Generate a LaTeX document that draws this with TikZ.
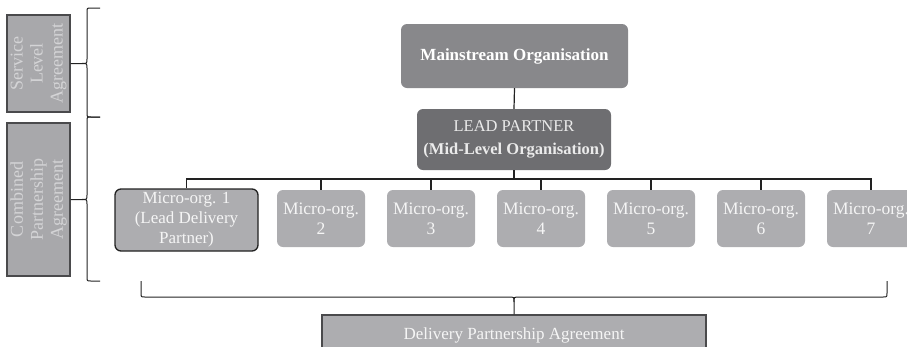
\documentclass[tikz,border=0pt]{standalone}
\usepackage{fontspec}
\setmainfont{Liberation Serif}
\definecolor{mainfill}{HTML}{88888B}
\definecolor{leadfill}{HTML}{6E6E71}
\definecolor{microfill}{HTML}{ADADB0}
\definecolor{sidefill}{HTML}{A8A8AB}
\definecolor{sidetext}{HTML}{D4D4D6}
\definecolor{edge}{HTML}{4A4A4C}
\definecolor{linec}{HTML}{222222}
\tikzset{
  orgbox/.style={rounded corners=6pt, inner sep=0pt, align=center, font=\fontsize{17.5}{20}\selectfont},
  mainbox/.style={orgbox, fill=mainfill, text=white, minimum width=227pt, minimum height=64pt, font=\fontsize{17}{20}\selectfont\bfseries},
  leadbox/.style={orgbox, fill=leadfill, text=white!92!black, minimum width=194pt, minimum height=61pt, font=\fontsize{16.5}{23}\selectfont},
  microbox/.style={orgbox, fill=microfill, text=white!96!black, minimum width=88pt, minimum height=57pt},
  sidebox/.style={draw=edge, line width=1.3pt, fill=sidefill, text=sidetext, inner sep=0pt, align=center, font=\fontsize{18}{20}\selectfont, rotate=90},
  conn/.style={draw=linec, line width=1.2pt},
  bracel/.style={draw=linec, line width=1pt},
}
\begin{document}
\begin{tikzpicture}[x=1pt,y=-1pt]
\useasboundingbox (0,0) rectangle (907,346);

% side boxes
\node[sidebox, minimum width=97pt, minimum height=63pt] (sla) at (38.5,63.5) {Service\\Level\\Agreement};
\node[sidebox, minimum width=153pt, minimum height=63pt] (cpa) at (38.5,199.5) {Combined\\Partnership\\Agreement};

% hierarchy
\node[mainbox] (main) at (514.5,56) {Mainstream Organisation};
\node[leadbox] (lead) at (514,139.5) {LEAD PARTNER\\\textbf{(Mid-Level Organisation)}};

\node[microbox, draw=linec, line width=1.3pt, minimum width=143pt, minimum height=62pt, font=\fontsize{17}{20}\selectfont] (m1) at (186.5,220) {Micro-org. 1\\(Lead Delivery\\Partner)};
\node[microbox] (m2) at (321,218.5) {Micro-org.\\2};
\node[microbox] (m3) at (431,218.5) {Micro-org.\\3};
\node[microbox] (m4) at (541,218.5) {Micro-org.\\4};
\node[microbox] (m5) at (651,218.5) {Micro-org.\\5};
\node[microbox] (m6) at (761,218.5) {Micro-org.\\6};
\node[microbox] (m7) at (871,218.5) {Micro-org.\\7};

\node[draw=edge, line width=1.3pt, fill=microfill, text=white!96!black, inner sep=0pt, minimum width=384pt, minimum height=40pt, font=\fontsize{17}{20}\selectfont] (dpa) at (514,335) {Delivery Partnership Agreement};

% connectors
\draw[conn] (main.south) -- (lead.north);
\coordinate (bus) at (514,179);
\draw[conn] (lead.south) -- (bus);
\draw[conn] (m1.north) |- (bus) -| (m7.north);
\foreach \m in {m2,m3,m4,m5,m6}{
  \draw[conn] (\m.north) -- (\m.north |- bus);
}

% left braces
\coordinate (b1t) at (100,8);
\coordinate (b1b) at (100,117);
\coordinate (b2t) at (100,117);
\coordinate (b2b) at (100,281);
\draw[bracel] (b1t) -- (91,8) .. controls (87,8) .. (87,12) -- (87,59) .. controls (87,63.5) .. (82,63.5) -- (sla.south);
\draw[bracel] (82,63.5) .. controls (87,63.5) .. (87,68) -- (87,113) .. controls (87,117) .. (91,117) -- (b1b);
\draw[bracel] (b2t) -- (91,117) .. controls (87,117) .. (87,121) -- (87,195) .. controls (87,199.5) .. (82,199.5) -- (cpa.south);
\draw[bracel] (82,199.5) .. controls (87,199.5) .. (87,204) -- (87,277) .. controls (87,281) .. (91,281) -- (b2b);

% bottom brace
\coordinate (bl) at (141,281);
\coordinate (br) at (887,281);
\draw[bracel] (bl) -- (141,293) .. controls (141,297) .. (145,297) -- (509,297) .. controls (514,297) .. (514,302) -- (dpa.north);
\draw[bracel] (514,302) .. controls (514,297) .. (519,297) -- (883,297) .. controls (887,297) .. (887,293) -- (br);
\end{tikzpicture}
\end{document}
